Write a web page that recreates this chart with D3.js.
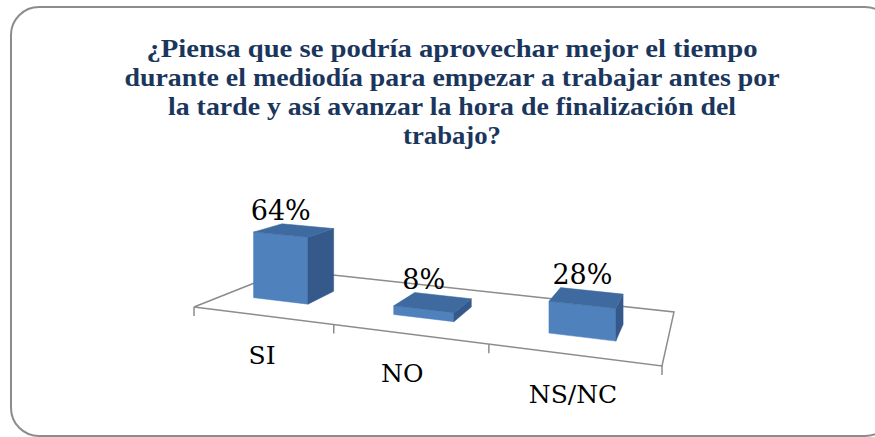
<!DOCTYPE html>
<html>
<head>
<meta charset="utf-8">
<script src="https://cdn.jsdelivr.net/npm/d3@7"></script>
<style>
  body { margin: 0; background: #fff; }
</style>
</head>
<body>
<script>
const width = 875;
const height = 437;

// datos
const categories = ["SI", "NO", "NS/NC"];
const values = [64, 8, 28];
const valueLabels = ["64%", "8%", "28%"];
const titleLines = [
  "¿Piensa que se podría aprovechar mejor el tiempo",
  "durante el mediodía para empezar a trabajar antes por",
  "la tarde y así avanzar la hora de finalización del",
  "trabajo?"
];
const titleWidths = [611, 655, 568, 98];

// esquinas del suelo en pantalla (frontal izq, frontal der, fondo der, fondo izq)
const floor = [[194, 307], [662, 366], [674, 312], [287, 270]];

// homografia cuadrado unidad -> suelo
function homography(p) {
  const [x0, y0] = p[0], [x1, y1] = p[1], [x2, y2] = p[2], [x3, y3] = p[3];
  const dx1 = x1 - x2, dx2 = x3 - x2, dx3 = x0 - x1 + x2 - x3;
  const dy1 = y1 - y2, dy2 = y3 - y2, dy3 = y0 - y1 + y2 - y3;
  const det = dx1 * dy2 - dx2 * dy1;
  const g = (dx3 * dy2 - dx2 * dy3) / det;
  const h = (dx1 * dy3 - dx3 * dy1) / det;
  const a = x1 - x0 + g * x1, b = x3 - x0 + h * x3, c = x0;
  const d = y1 - y0 + g * y1, e = y3 - y0 + h * y3, f = y0;
  return (u, v) => {
    const w = g * u + h * v + 1;
    return [(a * u + b * v + c) / w, (d * u + e * v + f) / w, w];
  };
}
const H = homography(floor);

const catScale = d3.scaleBand().domain(categories).range([0, 1]);
const barScale = d3.scaleBand().domain(categories).range([0, 1])
  .paddingInner(0.6).paddingOuter(0.25).align(0.42);
const depth = [0.3, 0.62];
const hScale = d3.scaleLinear().domain([0, 100]).range([0, 108]);

function proj(u, v, val) {
  const [x, y, w] = H(u, v);
  return [x, y - hScale(val) / w];
}

const svg = d3.select("body").append("svg")
  .attr("width", width)
  .attr("height", height);

// marco redondeado
svg.append("rect")
  .attr("x", 11).attr("y", 7)
  .attr("width", 882).attr("height", 429)
  .attr("rx", 28).attr("ry", 28)
  .style("fill", "#fff")
  .style("stroke", "#8c8c8c")
  .style("stroke-width", 2);

// titulo
const title = svg.append("text")
  .attr("text-anchor", "middle")
  .style("font-family", "'Liberation Serif', serif")
  .style("font-weight", "bold")
  .style("font-size", "26px")
  .style("fill", "#1B365D");
titleLines.forEach((t, i) => {
  title.append("tspan")
    .attr("x", 452)
    .attr("y", 57 + i * 29)
    .attr("textLength", titleWidths[i])
    .attr("lengthAdjust", "spacingAndGlyphs")
    .text(t);
});

// suelo
const line = d3.line();
svg.append("path")
  .attr("d", line([H(0, 0), H(1, 0), H(1, 1), H(0, 1), H(0, 0)].map(p => [p[0], p[1]])))
  .style("fill", "none")
  .style("stroke", "#8c8c8c")
  .style("stroke-width", 1.5);

// marcas del eje
const tickPos = [0].concat(categories.map(c => catScale(c) + catScale.bandwidth()));
svg.selectAll(".tick")
  .data(tickPos)
  .enter().append("line")
  .attr("x1", d => H(d, 0)[0])
  .attr("x2", d => H(d, 0)[0])
  .attr("y1", d => H(d, 0)[1])
  .attr("y2", d => H(d, 0)[1] + 9)
  .style("stroke", "#8c8c8c")
  .style("stroke-width", 1.5);

// barras
const faceColors = { front: "#4F81BD", side: "#35598A", top: "#3F6A9F" };
categories.forEach((c, i) => {
  const u0 = barScale(c), u1 = u0 + barScale.bandwidth();
  const [v0, v1] = depth;
  const val = values[i];
  const faces = {
    front: [proj(u0, v0, 0), proj(u1, v0, 0), proj(u1, v0, val), proj(u0, v0, val)],
    side: [proj(u1, v0, 0), proj(u1, v1, 0), proj(u1, v1, val), proj(u1, v0, val)],
    top: [proj(u0, v0, val), proj(u1, v0, val), proj(u1, v1, val), proj(u0, v1, val)]
  };
  const g = svg.append("g");
  ["front", "side", "top"].forEach(k => {
    g.append("path")
      .attr("d", line(faces[k]) + "Z")
      .style("fill", faceColors[k])
      .style("stroke", faceColors[k])
      .style("stroke-width", 0.5);
  });

  // etiqueta de valor
  const fx = (faces.front[0][0] + faces.front[1][0]) / 2;
  const topY = Math.min(faces.top[2][1], faces.top[3][1]);
  svg.append("text")
    .attr("x", fx)
    .attr("y", topY - 4)
    .attr("text-anchor", "middle")
    .style("font-family", "'DejaVu Serif', serif")
    .style("font-size", "27px")
    .style("fill", "#000")
    .text(valueLabels[i]);
});

// etiquetas de categoria
svg.selectAll(".cat")
  .data(categories)
  .enter().append("text")
  .attr("x", d => H(catScale(d) + catScale.bandwidth() / 2, 0)[0] - (d === "NO" ? 7 : 0))
  .attr("y", d => H(catScale(d) + catScale.bandwidth() / 2, 0)[1] + 48)
  .attr("text-anchor", "middle")
  .style("font-family", "'DejaVu Serif', serif")
  .style("font-size", "25px")
  .style("fill", "#000")
  .text(d => d);
</script>
</body>
</html>
